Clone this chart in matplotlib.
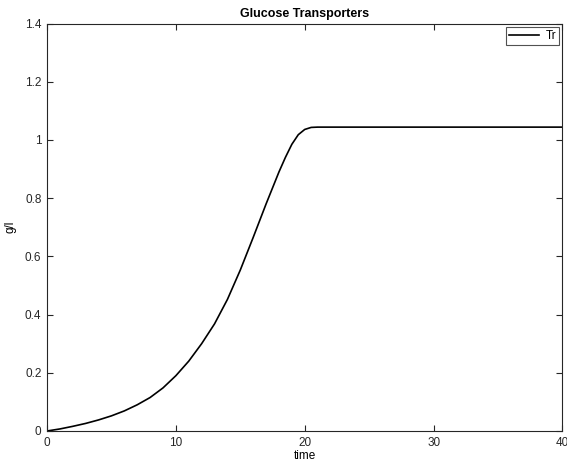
import numpy as np
import matplotlib.pyplot as plt

plt.rcParams['font.family'] = ['Liberation Sans', 'DejaVu Sans']

# time points and transporter level
time = [0, 1, 2, 3, 4, 5, 6, 7, 8, 9, 10, 11, 12, 13, 14, 15, 16, 17, 18,
        18.5, 19, 19.5, 20, 20.5, 21, 25, 30, 35, 40]
tr = [0.0, 0.007, 0.016, 0.026, 0.038, 0.052, 0.069, 0.09, 0.115, 0.148,
      0.19, 0.24, 0.3, 0.368, 0.452, 0.553, 0.665, 0.78, 0.89, 0.94,
      0.985, 1.018, 1.036, 1.043, 1.044, 1.044, 1.044, 1.044, 1.044]

xticks = [0, 10, 20, 30, 40]
yticks = [0, 0.2, 0.4, 0.6, 0.8, 1, 1.2, 1.4]
yticklabels = ['0', '0.2', '0.4', '0.6', '0.8', '1', '1.2', '1.4']

fig = plt.figure(figsize=(5.67, 4.70), dpi=100)
ax = fig.add_axes([0.0829, 0.083, 0.9091, 0.867])

ax.plot(time, tr, color='black', linewidth=1.2, label='Tr')

ax.set_xlim(0, 40)
ax.set_ylim(0, 1.4)
ax.set_xticks(xticks)
ax.set_yticks(yticks)
ax.set_yticklabels(yticklabels)
ax.tick_params(direction='in', length=4, width=0.8, colors='#262626',
               labelsize=8.5, top=True, right=True, pad=4)
for s in ax.spines.values():
    s.set_color('#262626')
    s.set_linewidth(0.8)

ax.set_title('Glucose Transporters', fontsize=9, fontweight='bold', pad=5)
ax.set_xlabel('time', fontsize=8.5, labelpad=1)
ax.set_ylabel('g/l', fontsize=8.5, labelpad=6)

leg = ax.legend(loc='upper right', fontsize=8.5, frameon=True, fancybox=False,
                handlelength=2.6, handletextpad=0.5, borderpad=0.25,
                borderaxespad=0.3)
leg.get_frame().set_edgecolor('#262626')
leg.get_frame().set_linewidth(0.8)

fig.savefig('out.png', dpi=100)
